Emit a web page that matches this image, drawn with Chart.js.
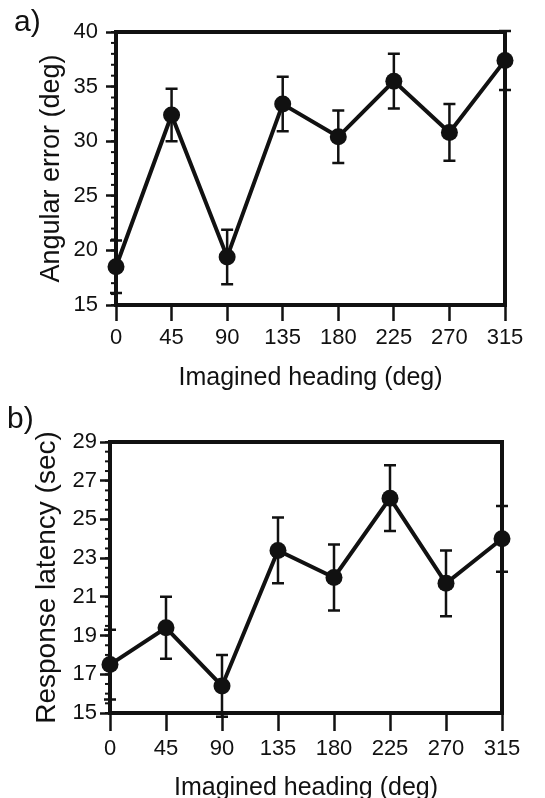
<!DOCTYPE html>
<html>
<head>
<meta charset="utf-8">
<script src="https://cdn.jsdelivr.net/npm/chart.js@4.4.1/dist/chart.umd.min.js"></script>
<style>
  html, body { margin: 0; padding: 0; background: #fff; overflow: hidden; }
  #page { position: relative; width: 545px; height: 798px; overflow: hidden; }
  .panel { position: absolute; left: 0; width: 545px; }
  #wrapA { top: 0; height: 395px; }
  #wrapB { top: 395px; height: 420px; }
  .tag { position: absolute; font-family: "Liberation Sans", Arial, sans-serif; font-size: 30px; color: #111; line-height: 1; }
</style>
</head>
<body>
<div id="page">
  <div class="panel" id="wrapA"><canvas id="chartA" width="545" height="395"></canvas></div>
  <div class="panel" id="wrapB"><canvas id="chartB" width="545" height="420"></canvas></div>
  <div class="tag" style="left:14px;top:6px">a)</div>
  <div class="tag" style="left:7px;top:403px">b)</div>
</div>
<script>
// imagined heading, deg
const headings = [0, 45, 90, 135, 180, 225, 270, 315];

// a) angular error (deg), mean and error bar half-length
const angularError = [18.5, 32.4, 19.4, 33.4, 30.4, 35.5, 30.8, 37.4];
const angularErrorBar = [2.4, 2.4, 2.5, 2.5, 2.4, 2.5, 2.6, 2.7];

// b) response latency (sec)
const latency = [17.5, 19.4, 16.4, 23.4, 22.0, 26.1, 21.7, 24.0];
const latencyBar = [1.8, 1.6, 1.6, 1.7, 1.7, 1.7, 1.7, 1.7];

// tick labels
const xTicks = [0, 45, 90, 135, 180, 225, 270, 315];
const yTicksA = [15, 20, 25, 30, 35, 40];
const yTicksB = [15, 17, 19, 21, 23, 25, 27, 29];

const INK = '#111';
Chart.defaults.font.family = '"Liberation Sans", Arial, Helvetica, sans-serif';
Chart.defaults.color = INK;

// frame, minor ticks and error bars, all placed via the chart's scales
const paperFrame = {
  id: 'paperFrame',
  beforeDatasetsDraw(chart, args, opts) {
    const ctx = chart.ctx;
    const a = chart.chartArea;
    const xs = chart.scales.x, ys = chart.scales.y;
    ctx.save();
    ctx.strokeStyle = INK;
    ctx.lineCap = 'butt';

    // minor y ticks
    ctx.lineWidth = 2;
    for (let v = ys.min; v <= ys.max + 1e-9; v += opts.minorStep) {
      const y = ys.getPixelForValue(v);
      ctx.beginPath();
      ctx.moveTo(a.left - 5, y);
      ctx.lineTo(a.left + 2, y);
      ctx.stroke();
    }

    // error bars
    const ds = chart.data.datasets[0];
    ctx.lineWidth = 2.5;
    ds.data.forEach((p, i) => {
      const e = ds.errorBars[i];
      const x = xs.getPixelForValue(p.x);
      const yHi = ys.getPixelForValue(p.y + e);
      const yLo = ys.getPixelForValue(p.y - e);
      ctx.beginPath();
      ctx.moveTo(x, yHi); ctx.lineTo(x, yLo);
      ctx.moveTo(x - 6, yHi); ctx.lineTo(x + 6, yHi);
      ctx.moveTo(x - 6, yLo); ctx.lineTo(x + 6, yLo);
      ctx.stroke();
    });

    // box
    ctx.lineWidth = 4;
    ctx.strokeRect(a.left, a.top, a.right - a.left, a.bottom - a.top);
    ctx.restore();
  }
};

function makeChart(id, values, bars, yMin, yMax, yTicks, minorStep, yTitle, g) {
  return new Chart(document.getElementById(id), {
    type: 'line',
    data: {
      datasets: [{
        data: headings.map((h, i) => ({ x: h, y: values[i] })),
        errorBars: bars,
        borderColor: INK,
        borderWidth: 4,
        tension: 0,
        pointRadius: 8.5,
        pointBackgroundColor: INK,
        pointBorderWidth: 0,
        clip: false
      }]
    },
    options: {
      responsive: false,
      animation: false,
      layout: { padding: g.pad },
      plugins: {
        legend: { display: false },
        tooltip: { enabled: false },
        paperFrame: { minorStep: minorStep }
      },
      scales: {
        x: {
          type: 'linear',
          min: 0,
          max: 315,
          afterBuildTicks: s => { s.ticks = xTicks.map(v => ({ value: v })); },
          afterFit: s => { s.height = g.xH; },
          ticks: { font: { size: 22 }, padding: g.xPad, maxRotation: 0, autoSkip: false, color: INK },
          grid: { drawOnChartArea: false, color: INK, tickLength: g.xTick, tickWidth: 2.5 },
          border: { display: false },
          title: { display: true, text: 'Imagined heading (deg)', font: { size: 25 }, padding: 0, color: INK }
        },
        y: {
          min: yMin,
          max: yMax,
          afterBuildTicks: s => { s.ticks = yTicks.map(v => ({ value: v })); },
          afterFit: s => { s.width = g.yW; },
          ticks: { font: { size: 22 }, padding: g.yPad, color: INK },
          grid: { drawOnChartArea: false, color: INK, tickLength: 10, tickWidth: 2.5 },
          border: { display: false },
          title: { display: true, text: yTitle, font: { size: g.yTitleSize }, padding: 0, color: INK }
        }
      }
    },
    plugins: [paperFrame]
  });
}

makeChart('chartA', angularError, angularErrorBar, 15, 40, yTicksA, 1, 'Angular error (deg)', {
  pad: { left: 35, right: 40, top: 32, bottom: 2 },
  yW: 81, xH: 88, xTick: 16, xPad: 4, yPad: 8, yTitleSize: 27
});

makeChart('chartB', latency, latencyBar, 15, 29, yTicksB, 0.5, 'Response latency (sec)', {
  pad: { left: 30, right: 43, top: 47, bottom: 12 },
  yW: 80, xH: 90, xTick: 18, xPad: 5, yPad: 3, yTitleSize: 28
});
</script>
</body>
</html>
